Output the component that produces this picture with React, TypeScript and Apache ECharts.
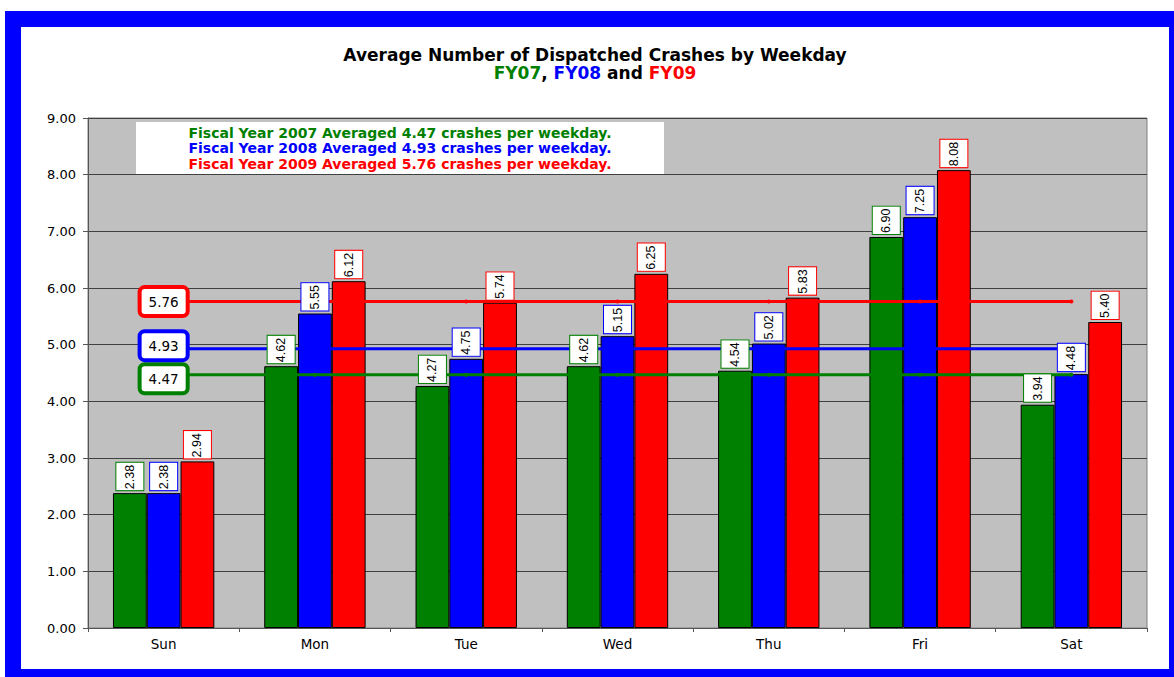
import React, { useEffect, useRef } from "react";
import * as echarts from "echarts";

const categories = ["Sun", "Mon", "Tue", "Wed", "Thu", "Fri", "Sat"];
const fy07 = [2.38, 4.62, 4.27, 4.62, 4.54, 6.9, 3.94];
const fy08 = [2.38, 5.55, 4.75, 5.15, 5.02, 7.25, 4.48];
const fy09 = [2.94, 6.12, 5.74, 6.25, 5.83, 8.08, 5.4];
const seriesNames = ["FY07", "FY08", "FY09"];
const averages = [4.47, 4.93, 5.76];
const legendLines = [
  "Fiscal Year 2007 Averaged 4.47 crashes per weekday.",
  "Fiscal Year 2008 Averaged 4.93 crashes per weekday.",
  "Fiscal Year 2009 Averaged 5.76 crashes per weekday.",
];
const colors = ["#008000", "#0000FF", "#FF0000"];
const avgLabelOffsets = [[0, 4], [0, -3], [0, 0]];

const FONT = "DejaVu Sans, Verdana, sans-serif";
const FONT_NARROW = "Liberation Sans, Arial, sans-serif";

export default function App() {
  const ref = useRef<HTMLDivElement>(null);
  useEffect(() => {
    if (!ref.current) return;
    const chart = echarts.init(ref.current, null, { renderer: "svg" });
    const barData = [fy07, fy08, fy09];
    const barSeries = barData.map((d, i) => ({
      name: seriesNames[i],
      type: "bar",
      xAxisIndex: 0,
      data: d,
      barGap: "0%",
      barCategoryGap: "33%",
      itemStyle: { color: colors[i], borderColor: "#000", borderWidth: 1 },
      z: 2,
    }));
    // transparent overlay bars on a hidden twin axis carrying the value labels above the average lines
    const labelSeries = barData.map((d, i) => ({
      name: seriesNames[i] + " labels",
      type: "bar",
      xAxisIndex: 1,
      data: d,
      barGap: "0%",
      barCategoryGap: "33%",
      itemStyle: { color: "rgba(0,0,0,0)", borderWidth: 0 },
      silent: true,
      z: 4,
      label: {
        show: true,
        position: "top",
        rotate: 90,
        align: "left",
        verticalAlign: "middle",
        distance: 3,
        formatter: (p: any) => Number(p.value).toFixed(2),
        fontFamily: FONT_NARROW,
        fontSize: 12.5,
        color: "#000",
        backgroundColor: "#fff",
        borderColor: colors[i],
        borderWidth: 1,
        padding: [7, 2, 7, 1],
      },
    }));
    const lineSeries = averages.map((avg, i) => ({
      name: seriesNames[i] + " avg",
      type: "line",
      xAxisIndex: 0,
      data: categories.map((_, j) =>
        j === 0 ? { value: avg, label: { show: true } } : avg
      ),
      symbol: "circle",
      symbolSize: 4,
      showSymbol: true,
      lineStyle: { color: colors[i], width: 3 },
      itemStyle: { color: colors[i] },
      z: 3,
      label: {
        show: false,
        position: "inside",
        offset: avgLabelOffsets[i],
        formatter: () => avg.toFixed(2),
        fontFamily: FONT,
        fontSize: 13.5,
        color: "#000",
        backgroundColor: "#fff",
        borderColor: colors[i],
        borderWidth: 4,
        borderRadius: 3,
        padding: [4, 7, 4, 7],
        lineHeight: 17,
      },
    }));
    const option = {
      animation: false,
      grid: {
        left: 88,
        top: 118,
        width: 1059,
        height: 510,
        show: true,
        backgroundColor: "#C0C0C0",
        borderColor: "#808080",
        borderWidth: 1,
      },
      xAxis: [
        {
          type: "category",
          data: categories,
          axisLine: { lineStyle: { color: "#555", width: 1 } },
          axisTick: { show: true, length: 4, lineStyle: { color: "#555" } },
          axisLabel: { fontFamily: FONT, fontSize: 13.5, color: "#000", margin: 9 },
        },
        {
          type: "category",
          data: categories,
          position: "bottom",
          show: false,
        },
      ],
      yAxis: {
        type: "value",
        min: 0,
        max: 9,
        interval: 1,
        axisLine: { show: true, lineStyle: { color: "#555", width: 1 } },
        axisTick: { show: true, length: 5, lineStyle: { color: "#555" } },
        axisLabel: {
          fontFamily: FONT,
          fontSize: 13,
          color: "#000",
          margin: 12,
          formatter: (v: number) => v.toFixed(2),
        },
        splitLine: { show: true, lineStyle: { color: "#404040", width: 1 } },
      },
      graphic: [
        { type: "rect", shape: { x: 5, y: 11, width: 1200, height: 700 }, style: { fill: "#0000FF" }, z: -10, silent: true },
        { type: "rect", shape: { x: 21, y: 27, width: 1148, height: 642 }, style: { fill: "#FFFFFF" }, z: -9, silent: true },
        {
          type: "text",
          x: 595,
          y: 46,
          style: {
            text:
              "{t|Average Number of Dispatched Crashes by Weekday}\n{g|FY07}{k|, }{b|FY08}{k| and }{r|FY09}",
            align: "center",
            verticalAlign: "top",
            rich: {
              t: { fontFamily: FONT, fontSize: 17, fontWeight: "bold", fill: "#000", lineHeight: 18 },
              g: { fontFamily: FONT, fontSize: 17, fontWeight: "bold", fill: colors[0], lineHeight: 18 },
              b: { fontFamily: FONT, fontSize: 17, fontWeight: "bold", fill: colors[1], lineHeight: 18 },
              r: { fontFamily: FONT, fontSize: 17, fontWeight: "bold", fill: colors[2], lineHeight: 18 },
              k: { fontFamily: FONT, fontSize: 17, fontWeight: "bold", fill: "#000", lineHeight: 18 },
            },
          },
          z: 10,
        },
        { type: "rect", shape: { x: 136, y: 122, width: 528, height: 52 }, style: { fill: "#FFFFFF" }, z: 10 },
        ...legendLines.map((t, i) => ({
          type: "text",
          x: 400,
          y: 132.7 + i * 15.5,
          style: {
            text: t,
            align: "center",
            verticalAlign: "middle",
            fontFamily: FONT,
            fontSize: 14,
            fontWeight: "bold",
            fill: colors[i],
          },
          z: 11,
        })),
      ],
      series: [...barSeries, ...lineSeries, ...labelSeries],
    };
    chart.setOption(option as any);
    return () => chart.dispose();
  }, []);
  return (
    <div
      ref={ref}
      style={{ position: "absolute", left: 0, top: 0, width: 1174, height: 677 }}
    />
  );
}
